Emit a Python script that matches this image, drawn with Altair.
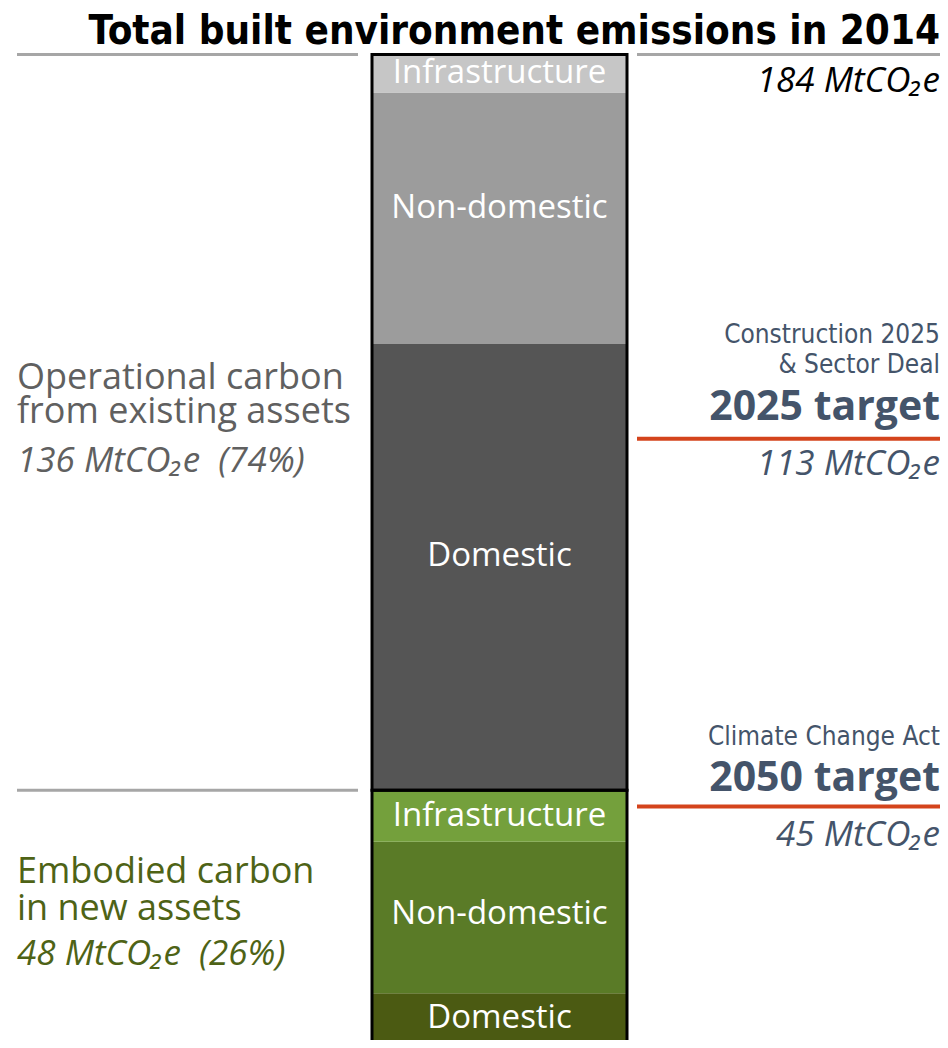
import altair as alt
import pandas as pd

# ---------------- data ----------------
groups = ["Embodied", "Embodied", "Embodied", "Operational", "Operational", "Operational"]
segments = ["Domestic", "Non-domestic", "Infrastructure", "Domestic", "Non-domestic", "Infrastructure"]
values = [10.5, 28.0, 9.5, 82.5, 46.5, 7.0]
seg_colors = ["#4b5a12", "#5a7b27", "#74a03c", "#555555", "#9c9c9c", "#c6c6c6"]
# small vertical nudges (px) of the labels inside the bar
label_nudge = [-4, -3, 0, -11, -10, 0]

total = 184
operational_total = 136
embodied_total = 48
target_2025 = 113
target_2050 = 45

# ---------------- layout ----------------
W = 932           # svg width
H_SVG = 1032      # svg height (page is 1048 incl. 8px margins)
H_SCALE = 1042    # the bar runs past the bottom edge of the page
YMAX = 192.6
PX = H_SCALE / YMAX  # px per MtCO2e
BAR_X0, BAR_X1 = 364, 619
BAR_MID = (BAR_X0 + BAR_X1) / 2
LEFT_X, LEFT_LINE_END = 9, 350
RIGHT_LINE_START, RIGHT_X, RED_END = 629, 932, 932

xs = alt.Scale(domain=[0, W], range=[0, W], nice=False, zero=False)
ys = alt.Scale(domain=[0, YMAX], range=[H_SCALE, 0], nice=False, zero=True)

NARROW = "DejaVu Sans Condensed, Liberation Sans Narrow, sans-serif"
SANS = "Open Sans, Noto Sans, sans-serif"
BLUE = "#44546a"
GREEN_TXT = "#4e6316"
GRAY_TXT = "#606060"
RED = "#d4441c"
LINE_GRAY = "#a6a6a6"
SP = "\u00a0 "  # double space that SVG keeps

# stacked segments
df = pd.DataFrame({"group": groups, "segment": segments, "value": values, "color": seg_colors,
                   "nudge": label_nudge})
df["y2"] = df["value"].cumsum()
df["y"] = df["y2"] - df["value"]
df["x"] = BAR_X0
df["x2"] = BAR_X1
df["xm"] = BAR_MID
df["ym"] = (df["y"] + df["y2"]) / 2 - df["nudge"] / PX

bars = alt.Chart(df).mark_rect().encode(
    x=alt.X("x:Q", scale=xs, axis=None), x2="x2:Q",
    y=alt.Y("y:Q", scale=ys, axis=None), y2="y2:Q",
    color=alt.Color("color:N", scale=None),
)

bar_labels = alt.Chart(df).mark_text(
    baseline="middle", align="center", fontSize=33, font=SANS, color="white"
).encode(
    x=alt.X("xm:Q", scale=xs, axis=None), y=alt.Y("ym:Q", scale=ys, axis=None), text="segment:N"
)

gdf = pd.DataFrame({"group": ["Embodied", "Operational"],
                    "y": [0, embodied_total], "y2": [embodied_total, total],
                    "x": [BAR_X0, BAR_X0], "x2": [BAR_X1, BAR_X1]})
outline = alt.Chart(gdf).mark_rect(fill=None, stroke="black", strokeWidth=3).encode(
    x=alt.X("x:Q", scale=xs, axis=None), x2="x2:Q",
    y=alt.Y("y:Q", scale=ys, axis=None), y2="y2:Q",
)

# gray guide lines
gl = pd.DataFrame({"x": [LEFT_X, RIGHT_LINE_START, LEFT_X],
                   "x2": [LEFT_LINE_END, RIGHT_X, LEFT_LINE_END],
                   "y": [total, total, embodied_total]})
gray_lines = alt.Chart(gl).mark_rule(color=LINE_GRAY, strokeWidth=3).encode(
    x=alt.X("x:Q", scale=xs, axis=None), x2="x2:Q", y=alt.Y("y:Q", scale=ys, axis=None))

rl = pd.DataFrame({"x": [RIGHT_LINE_START, RIGHT_LINE_START], "x2": [RED_END, RED_END],
                   "y": [target_2025, target_2050]})
red_lines = alt.Chart(rl).mark_rule(color=RED, strokeWidth=4).encode(
    x=alt.X("x:Q", scale=xs, axis=None), x2="x2:Q", y=alt.Y("y:Q", scale=ys, axis=None))


def label(txt, x, yv, dy, size, color, font, weight="normal", style="normal", align="left"):
    d = pd.DataFrame({"t": [txt], "x": [x], "y": [yv]})
    return alt.Chart(d).mark_text(
        align=align, baseline="alphabetic", dy=dy, fontSize=size, color=color,
        font=font, fontWeight=weight, fontStyle=style
    ).encode(x=alt.X("x:Q", scale=xs, axis=None), y=alt.Y("y:Q", scale=ys, axis=None), text="t:N")


op_mid = embodied_total + operational_total / 2
em_mid = embodied_total / 2

texts = [
    label("Total built environment emissions in 2014", RIGHT_X, total, -11, 40, "black", NARROW, weight="bold", align="right"),
    label(f"{total} MtCO₂e", RIGHT_X, total, 37, 35, "black", SANS, style="italic", align="right"),
    label("Construction 2025", RIGHT_X, target_2025, -96, 26, BLUE, NARROW, align="right"),
    label("& Sector Deal", RIGHT_X, target_2025, -66, 26, BLUE, NARROW, align="right"),
    label("2025 target", RIGHT_X, target_2025, -19, 41, BLUE, SANS, weight="bold", align="right"),
    label(f"{target_2025} MtCO₂e", RIGHT_X, target_2025, 36, 35, BLUE, SANS, style="italic", align="right"),
    label("Climate Change Act", RIGHT_X, target_2050, -62, 26, BLUE, NARROW, align="right"),
    label("2050 target", RIGHT_X, target_2050, -16, 41, BLUE, SANS, weight="bold", align="right"),
    label(f"{target_2050} MtCO₂e", RIGHT_X, target_2050, 39, 35, BLUE, SANS, style="italic", align="right"),
    label("Operational carbon", LEFT_X, op_mid, -33, 36, GRAY_TXT, SANS),
    label("from existing assets", LEFT_X, op_mid, 1, 36, GRAY_TXT, SANS),
    label(f"{operational_total} MtCO₂e{SP}({round(100*operational_total/total)}%)", LEFT_X, op_mid, 50, 35, GRAY_TXT, SANS, style="italic"),
    label("Embodied carbon", LEFT_X, em_mid, -37, 36, GREEN_TXT, SANS),
    label("in new assets", LEFT_X, em_mid, 0, 36, GREEN_TXT, SANS),
    label(f"{embodied_total} MtCO₂e{SP}({round(100*embodied_total/total)}%)", LEFT_X, em_mid, 45, 35, GREEN_TXT, SANS, style="italic"),
]

chart = alt.layer(bars, bar_labels, outline, gray_lines, red_lines, *texts).properties(
    width=W, height=H_SVG, padding=0, autosize=alt.AutoSizeParams(type="none")
).configure_view(stroke=None)

chart.save("out.html", embed_options={"renderer": "svg", "actions": False})
